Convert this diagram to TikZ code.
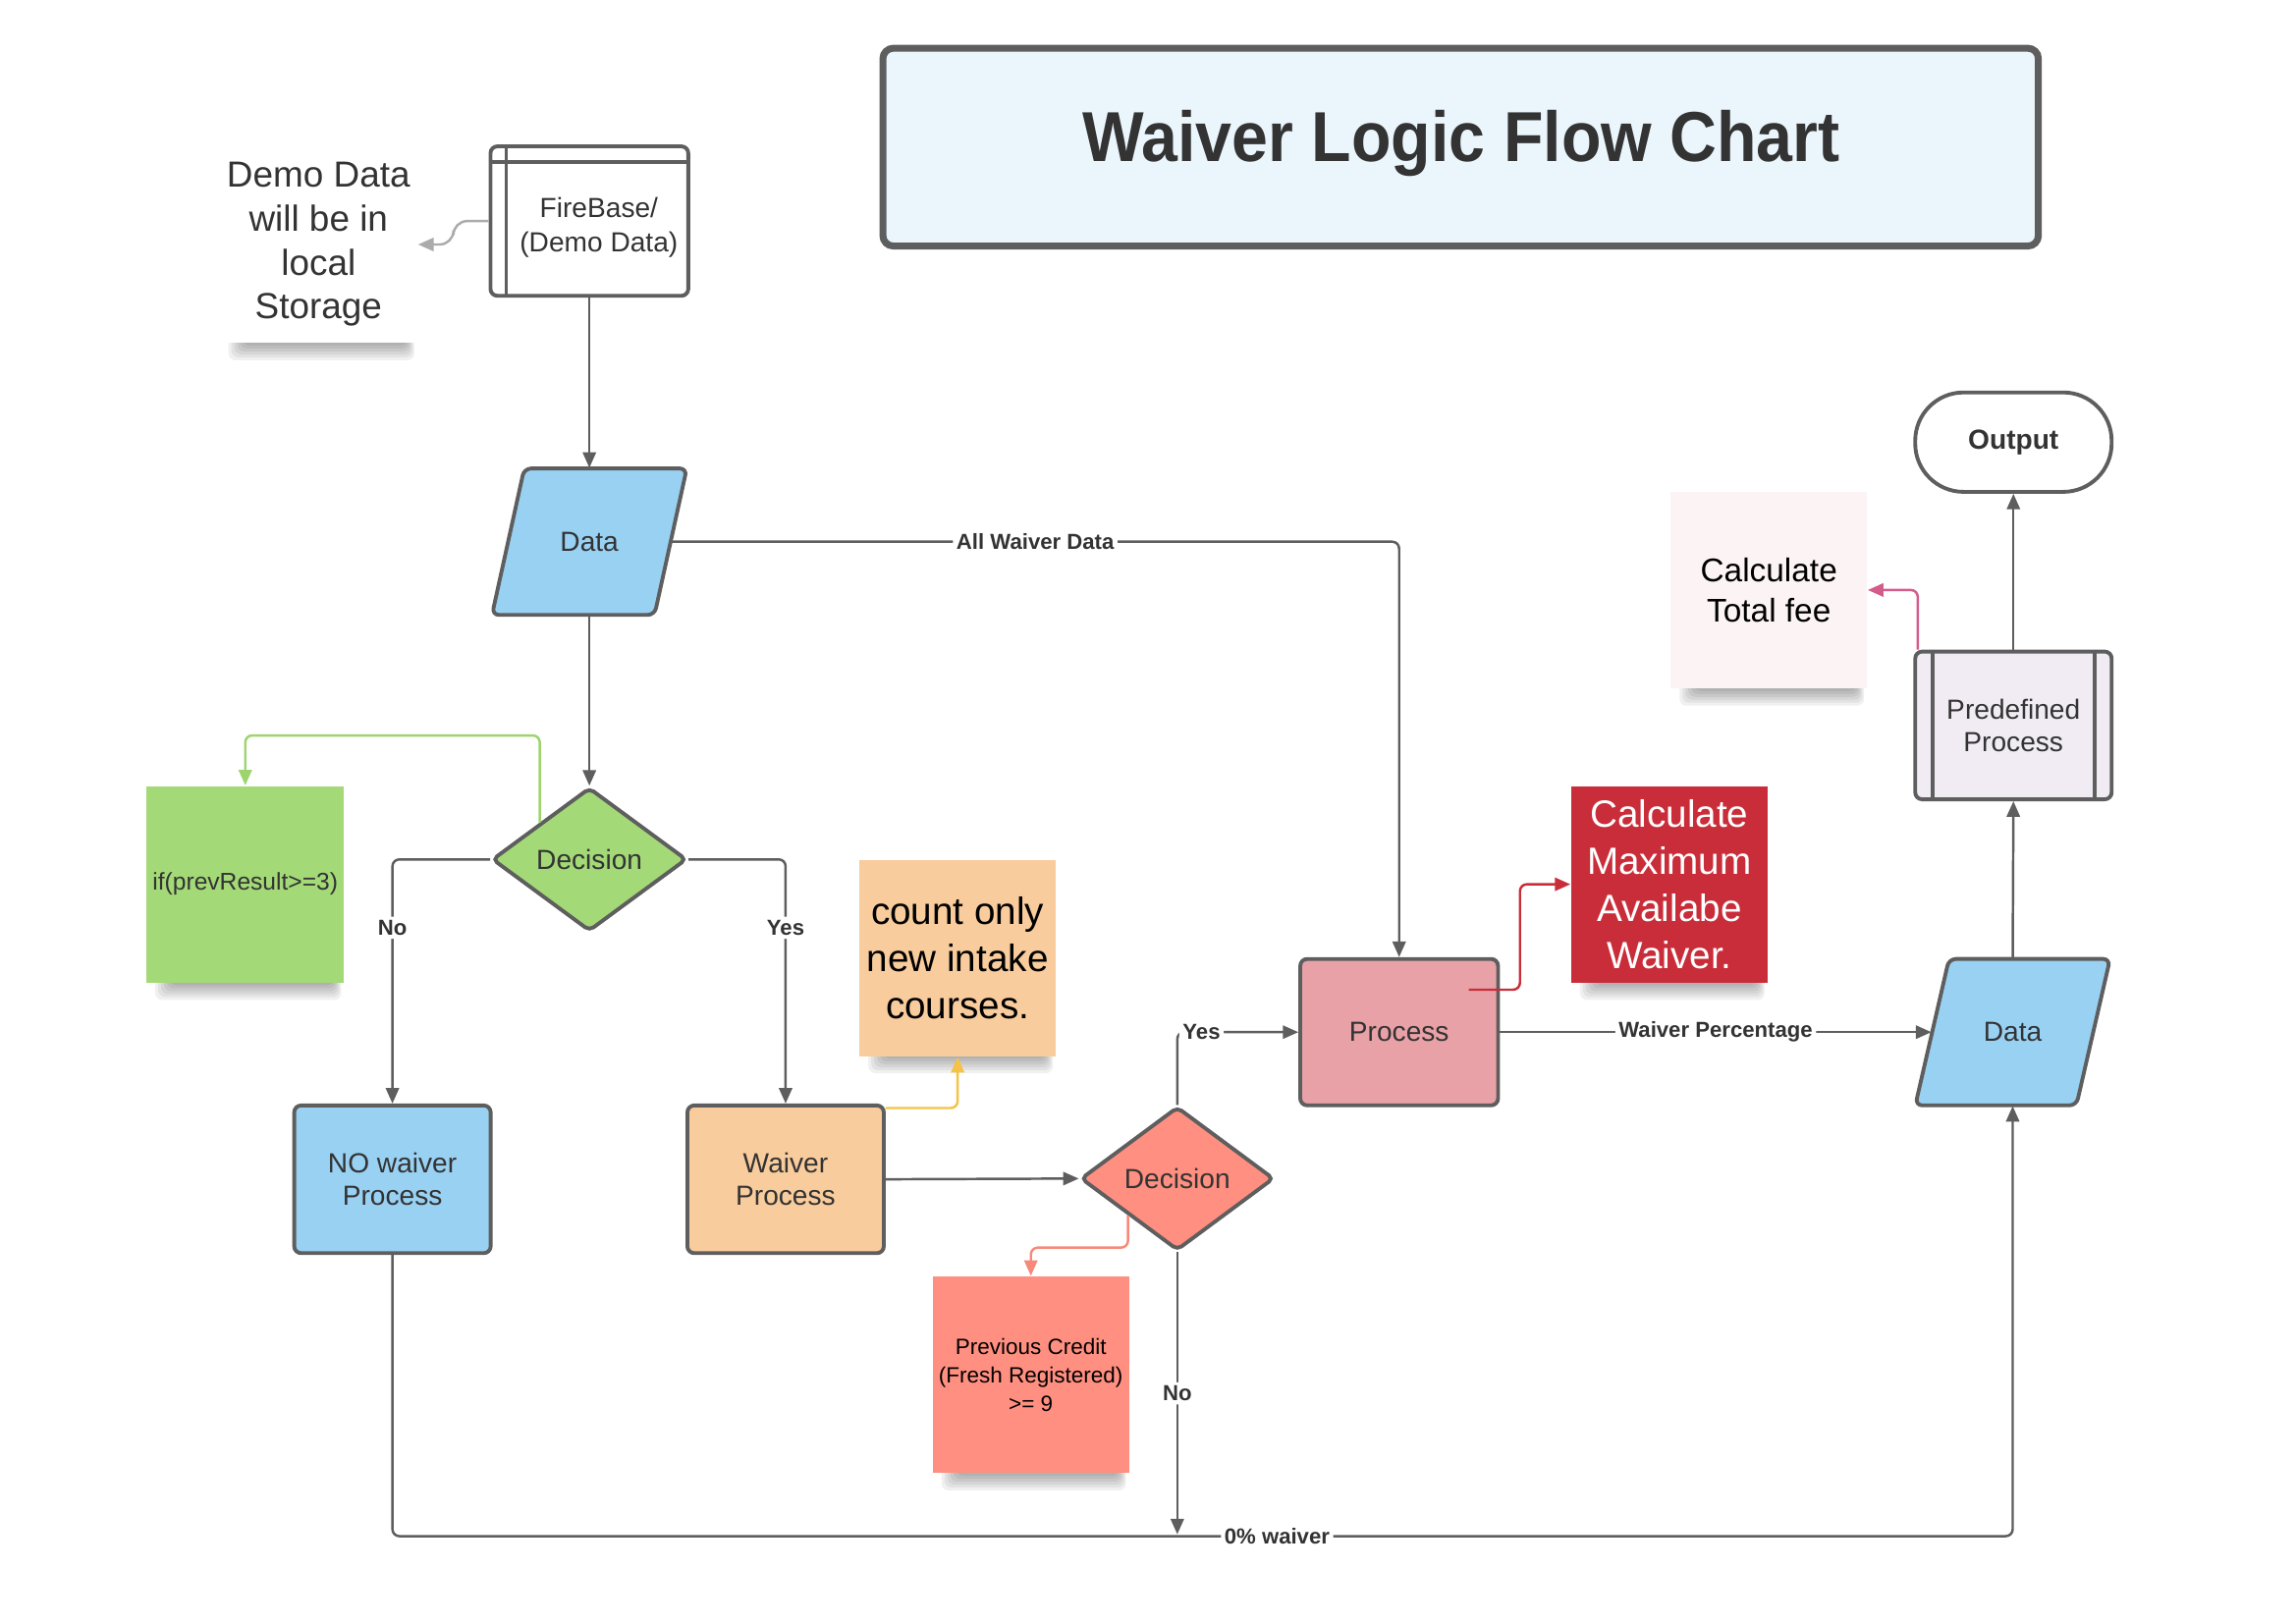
\documentclass[tikz,border=0pt]{standalone}
\usepackage{fontspec}
\setmainfont{Liberation Sans}
\usepackage{graphicx}
\usetikzlibrary{shapes.geometric,arrows.meta,calc}
\definecolor{bord}{HTML}{5E5E5E}
\definecolor{txt}{HTML}{333333}
\definecolor{titlefill}{HTML}{EAF5FC}
\definecolor{datablue}{HTML}{99D1F3}
\definecolor{decgreen}{HTML}{A3D977}
\definecolor{peach}{HTML}{F8CC9C}
\definecolor{salmon}{HTML}{FF8F80}
\definecolor{procpink}{HTML}{E8A1A7}
\definecolor{notered}{HTML}{C92D39}
\definecolor{predfill}{HTML}{F1ECF3}
\definecolor{feefill}{HTML}{FCF3F5}
\definecolor{greenline}{HTML}{9CD46E}
\definecolor{yellowline}{HTML}{F4C245}
\definecolor{salmonline}{HTML}{F7897A}
\definecolor{pinkline}{HTML}{D35C8A}
\definecolor{lightline}{HTML}{ABABAB}
\newcommand\notesh[3]{%
  \foreach \i in {0,...,5}{
    \fill[black,opacity=0.06,rounded corners=2pt] ({#1+6+2*\i},{#3-6}) rectangle ({#2-2-\i},{#3+12-2*\i});
  }%
}
\begin{document}
\begin{tikzpicture}[x=0.01491cm,y=-0.01491cm,
  every node/.style={text=txt, align=center, font=\fontsize{8}{9.6}\selectfont},
  box/.style={draw=bord, line width=1.1pt, rounded corners=2pt, minimum width=56.9pt, minimum height=42.8pt, inner sep=0pt},
  note/.style={minimum width=56.9pt, minimum height=56.9pt, inner sep=0pt},
  conn/.style={draw=bord, line width=0.7pt, rounded corners=2pt, -{Triangle[length=4.5pt,width=3.8pt]}},
  lbl/.style={fill=white, inner sep=1pt, font=\bfseries\fontsize{6.3}{7.5}\selectfont, text=txt},
  para/.style={draw=bord, line width=1.1pt, rounded corners=2pt, fill=datablue},
  dec/.style={diamond, draw=bord, line width=1.1pt, rounded corners=1.5pt, minimum width=56.4pt, minimum height=41.6pt, inner sep=0pt},
  hid/.style={inner sep=0pt, minimum height=42.4pt}
]
\useasboundingbox (0,0) rectangle (1568,1109);

% title
\node[draw=bord, line width=2pt, fill=titlefill, rounded corners=3pt, minimum width=334.7pt, minimum height=57.3pt] (title) at (997.5,100.5) {};
\node (titletext) at (998,98) {\fontsize{20.5}{24}\selectfont\bfseries\scalebox{0.92}[1]{Waiver Logic Flow Chart}};

% shadows of notes
\notesh{150}{285}{234}
\notesh{100}{235}{671}
\notesh{587}{721}{721}
\notesh{637}{771}{1006}
\notesh{1073}{1207}{671}
\notesh{1141}{1275}{470}

% notes
\node[note, fill=white, minimum width=57.3pt, font=\fontsize{10.5}{12.7}\selectfont] (demonote) at (217.5,167) {Demo Data\\will be in\\local\\Storage};
\node[note, fill=decgreen, minimum width=57.3pt, font=\fontsize{7}{8.4}\selectfont] (ifnote) at (167.5,604) {if(prevResult>=3)};
\node[note, fill=peach, text=black, font=\fontsize{11}{13.6}\selectfont] (countnote) at (654,654.5) {count only\\new intake\\courses.};
\node[note, fill=salmon, text=black, font=\fontsize{6.4}{8.3}\selectfont] (prevnote) at (704,939) {Previous Credit\\(Fresh Registered)\\>= 9};
\node[note, fill=notered, text=white, font=\fontsize{11}{13.6}\selectfont] (rednote) at (1140,604) {Calculate\\Maximum\\Availabe\\Waiver.};
\node[note, fill=feefill, text=black, font=\fontsize{9.5}{11.5}\selectfont] (totalnote) at (1208,403) {Calculate\\Total fee};

% firebase
\node[box, fill=white, minimum width=57.3pt, minimum height=43.3pt] (firebase) at (402.5,151) {};
\draw[draw=bord, line width=1.1pt] ([xshift=5.1pt]firebase.north west) -- ([xshift=5.1pt]firebase.south west);
\draw[draw=bord, line width=1.1pt] ([yshift=-5.1pt]firebase.north west) -- ([yshift=-5.1pt]firebase.north east);
\node[font=\fontsize{8}{9.8}\selectfont] (fbtext) at (409,155.5) {FireBase/\\(Demo Data)};

% data 1
\draw[para] (358,320) -- (469,320) -- (447,420) -- (336,420) -- cycle;
\node[hid, minimum width=47.1pt] (data1) at (402.5,370) {Data};

% decisions and processes
\node[dec, fill=decgreen] (dec1) at (402.5,587) {Decision};
\node[box, fill=datablue, font=\fontsize{8}{9.5}\selectfont] (nowaiver) at (268,805.5) {NO waiver\\Process};
\node[box, fill=peach, font=\fontsize{8}{9.5}\selectfont] (waiverproc) at (536.5,805.5) {Waiver\\Process};
\node[dec, fill=salmon, minimum width=56pt] (dec2) at (804,805) {Decision};
\node[box, fill=procpink, minimum width=57.3pt, minimum height=42.4pt] (process) at (955.5,705) {Process};

% data 2
\draw[para] (1331,655) -- (1441,655) -- (1418,755) -- (1308,755) -- cycle;
\node[hid, minimum width=46.7pt] (data2) at (1374.5,705) {Data};

% predefined process
\node[box, fill=predfill, font=\fontsize{8}{9.5}\selectfont] (predef) at (1375,495.5) {Predefined\\Process};
\draw[draw=bord, line width=1.1pt] ([xshift=5.5pt]predef.north west) -- ([xshift=5.5pt]predef.south west);
\draw[draw=bord, line width=1.1pt] ([xshift=-5.5pt]predef.north east) -- ([xshift=-5.5pt]predef.south east);

% output
\node[box, fill=white, rounded corners=14pt, minimum height=28.8pt, font=\bfseries\fontsize{8}{9.6}\selectfont] (output) at (1375,302) {Output};

% connectors
\draw[conn, draw=lightline, rounded corners=4pt] (firebase.west) -- ++(-24,0) |- (demonote.east);
\draw[conn] (firebase.south) -- (data1.north);
\draw[conn] (data1.south) -- (dec1.north);
\draw[conn] (data1.east) -| node[lbl,pos=0.25] {All Waiver Data} (process.north);
\draw[conn] (dec1.west) -| node[lbl,pos=0.64] {No} (nowaiver.north);
\draw[conn] (dec1.east) -| node[lbl,pos=0.64] {Yes} (waiverproc.north);
\draw[conn, draw=greenline] (dec1.north west) -- ++(0,-59.5) -| (ifnote.north);
\draw[conn, draw=yellowline] ([yshift=-1.3pt]waiverproc.north east) -| (countnote.south);
\draw[conn] (waiverproc.east) -- (dec2.west);
\draw[conn, draw=salmonline] (dec2.south west) -- ++(0,22) -| (prevnote.north);
\draw[conn] (dec2.north) |- node[lbl,pos=0.6] {Yes} (process.west);
\coordinate (nojoin) at (804,1048);
\draw[conn] (dec2.south) -- node[lbl] {No} (nojoin);
\draw[conn] (nowaiver.south) -- ++(0,192) -| node[lbl,pos=0.273] {0\% waiver} (data2.south);
\coordinate (redstart) at (1003,676);
\draw[conn, draw=notered] (redstart) -- ++(35,0) |- (rednote.west);
\draw[conn] (process.east) -- node[lbl] {Waiver Percentage} (data2.west);
\draw[conn] (data2.north) -- (predef.south);
\draw[conn] (predef.north) -- (output.south);
\draw[conn, draw=pinkline] ([xshift=1.3pt]predef.north west) |- (totalnote.east);
\end{tikzpicture}
\end{document}
